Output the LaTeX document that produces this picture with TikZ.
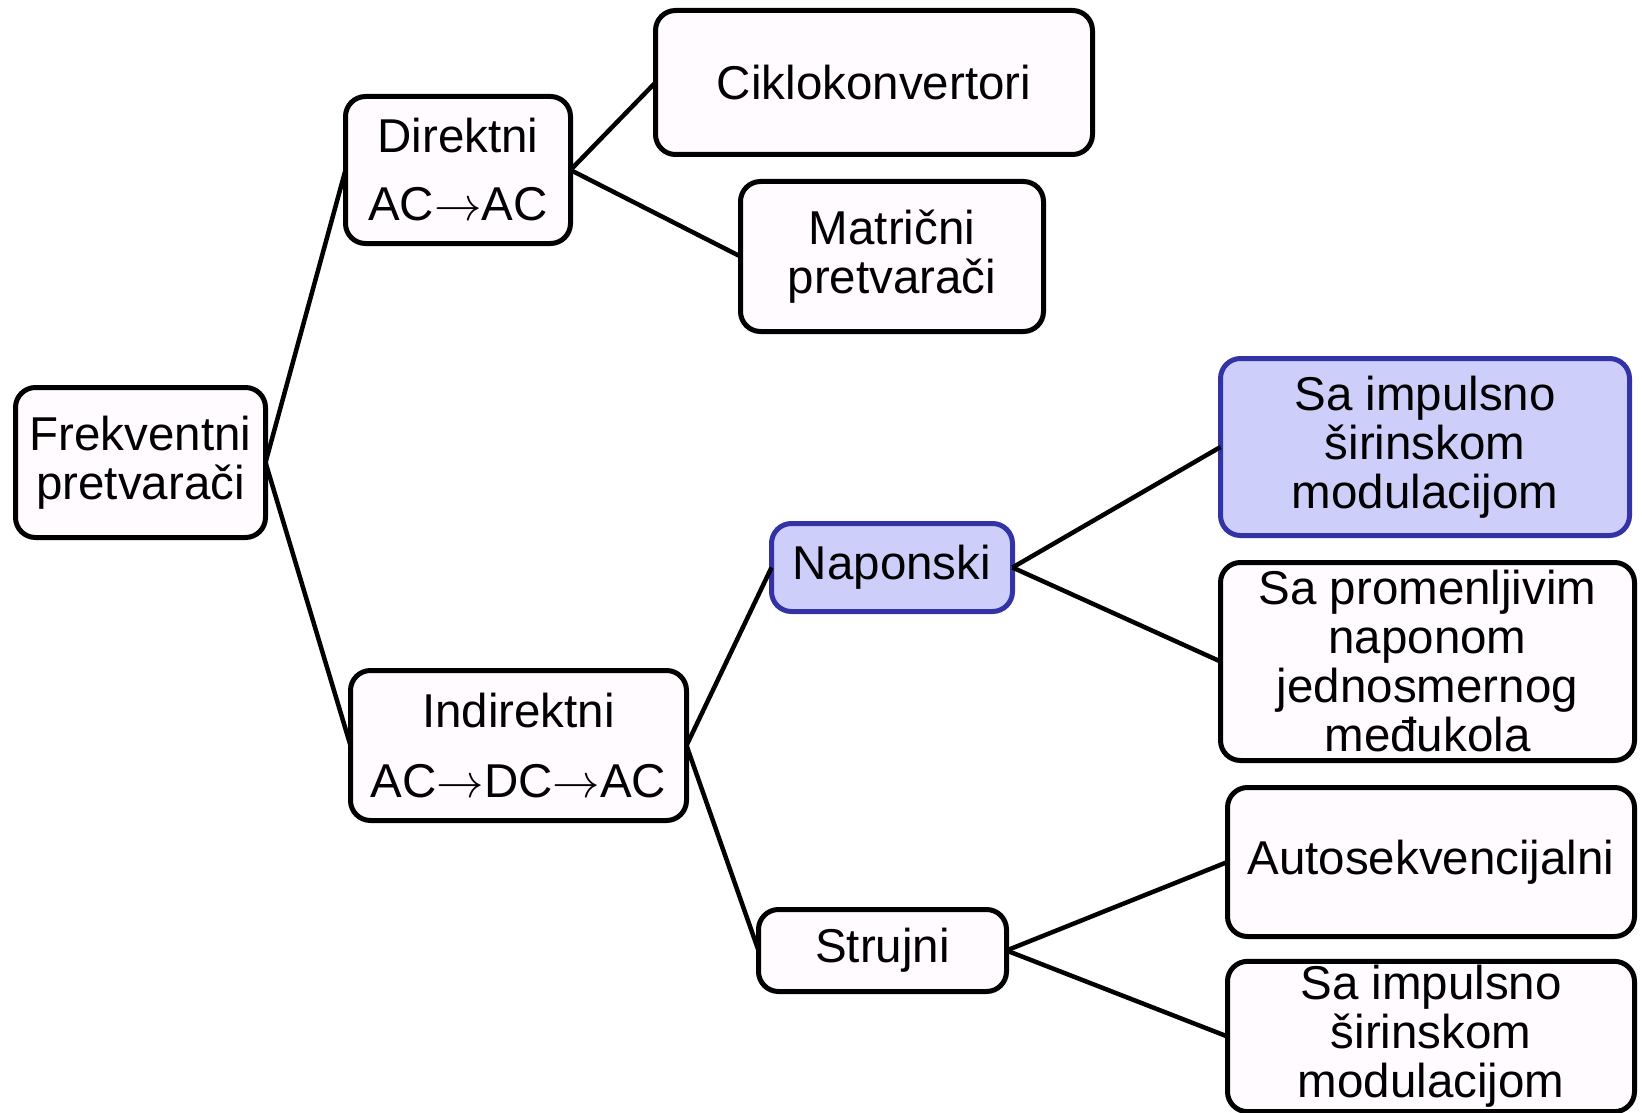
\RequirePackage{fix-cm}
\documentclass[tikz,border=0pt]{standalone}
\usepackage{fontspec}
\setmainfont{Liberation Sans}
\usepackage{tikz}
\usetikzlibrary{positioning}

\definecolor{boxfill}{RGB}{255,251,255}
\definecolor{hifill}{RGB}{206,206,250}
\definecolor{hidraw}{RGB}{51,51,165}

\begin{document}
\begin{tikzpicture}[
      x=1pt, y=1pt,
      box/.style={draw, line width=5pt, rounded corners=20pt, fill=boxfill,
                  align=center, inner sep=4pt, outer sep=0pt,
                  font=\fontsize{47.5}{49}\selectfont},
      hi/.style={box, draw=hidraw, fill=hifill},
      link/.style={line width=4.5pt}]
    \useasboundingbox (0,0) rectangle (1642,-1113);
    \node[box, minimum width=250pt, minimum height=150pt] (frek) at (140.5,-462.5)
      {Frekventni\\pretvarači};
    % direktni grana
    \node[box, right=80pt of frek, yshift=292.5pt, minimum width=225pt, minimum height=147pt] (direkt)
      {Direktni\\[19pt]AC$\rightarrow$AC};
    \node[box, right=85pt of direkt, yshift=87.5pt, minimum width=437pt, minimum height=144pt] (ciklo)
      {Ciklokonvertori};
    \node[box, right=170pt of direkt, yshift=-86.5pt, minimum width=303pt, minimum height=150pt] (matr)
      {Matrični\\pretvarači};
    % indirektni grana
    \node[box, right=85pt of frek, yshift=-283pt, minimum width=336pt, minimum height=150pt] (indir)
      {Indirektni\\[21pt]AC$\rightarrow$DC$\rightarrow$AC};
    \node[hi, right=85pt of indir, yshift=178pt, minimum width=241pt, minimum height=88pt] (napon)
      {Naponski};
    \node[box, right=72pt of indir, yshift=-205pt, minimum width=248pt, minimum height=82pt] (struj)
      {Strujni};
    \node[hi, right=208pt of napon, yshift=120.5pt, minimum width=409pt, minimum height=177pt] (pwmv)
      {Sa impulsno\\širinskom\\modulacijom};
    \node[box, right=208pt of napon, yshift=-94pt, minimum width=414pt, minimum height=198pt] (promen)
      {Sa promenljivim\\naponom\\jednosmernog\\međukola};
    \node[box, right=221pt of struj, yshift=88.5pt, minimum width=407pt, minimum height=149pt] (auto)
      {Autosekvencijalni};
    \node[box, right=221pt of struj, yshift=-86pt, minimum width=407pt, minimum height=146pt] (pwmc)
      {Sa impulsno\\širinskom\\modulacijom};
    \draw[link] (frek.east) -- (direkt.west);
    \draw[link] (frek.east) -- (indir.west);
    \draw[link] (direkt.east) -- (ciklo.west);
    \draw[link] (direkt.east) -- (matr.west);
    \draw[link] (indir.east) -- (napon.west);
    \draw[link] (indir.east) -- (struj.west);
    \draw[link] (napon.east) -- (pwmv.west);
    \draw[link] (napon.east) -- (promen.west);
    \draw[link] (struj.east) -- (auto.west);
    \draw[link] (struj.east) -- (pwmc.west);
  \end{tikzpicture}
\end{document}
